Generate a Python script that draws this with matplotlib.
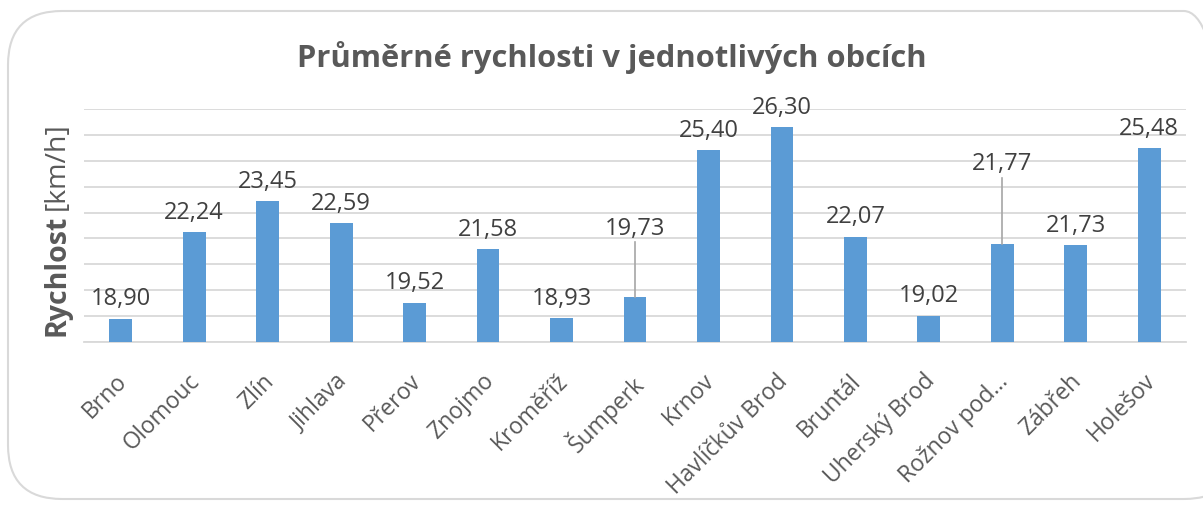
import matplotlib
matplotlib.use("Agg")
import matplotlib.pyplot as plt
import matplotlib.transforms as mtransforms
from matplotlib.patches import FancyBboxPatch

cities = ["Brno", "Olomouc", "Zlín", "Jihlava", "Přerov", "Znojmo", "Kroměříž", "Šumperk",
          "Krnov", "Havlíčkův Brod", "Bruntál", "Uherský Brod", "Rožnov pod...", "Zábřeh", "Holešov"]
speeds = [18.90, 22.24, 23.45, 22.59, 19.52, 21.58, 18.93, 19.73,
          25.40, 26.30, 22.07, 19.02, 21.77, 21.73, 25.48]
# label positions moved up with leader lines (index -> label value position)
moved_labels = {7: 21.95, 12: 24.45}

title = "Průměrné rychlosti v jednotlivých obcích"
ymin, ymax = 18, 27

plt.rcParams['font.family'] = ['Open Sans', 'DejaVu Sans']

W, H = 1203, 506
fig = plt.figure(figsize=(W / 100, H / 100), dpi=100)

# chart border
border = FancyBboxPatch((8 / W, 1 - 500 / H), 1230 / W, 488 / H,
                        boxstyle="round,pad=0,rounding_size=0.045",
                        transform=fig.transFigure, fill=False,
                        edgecolor="#d9d9d9", linewidth=1.5, mutation_aspect=W / H)
fig.patches.append(border)

ax = fig.add_axes([84 / W, 1 - 343 / H, 1102 / W, 233 / H])
x = list(range(len(cities)))
ax.bar(x, speeds, width=0.31, color="#5b9bd5", zorder=3)
ax.set_xlim(-0.5, len(cities) - 0.5)
ax.set_ylim(ymin, ymax)
ax.set_yticks(range(ymin, ymax + 1))
ax.yaxis.grid(True, color="#d9d9d9", linewidth=1.3, zorder=0)
ax.tick_params(axis='y', left=False, labelleft=False)
ax.tick_params(axis='x', bottom=False, pad=15.5)
for s in ["top", "right", "left"]:
    ax.spines[s].set_visible(False)
ax.spines["bottom"].set_color("#d9d9d9")
ax.spines["bottom"].set_linewidth(1.3)

ax.set_xticks(x)
ax.set_xticklabels(cities, rotation=45, ha="right", rotation_mode="anchor",
                   fontsize=16.5, color="#595959")
shift = mtransforms.ScaledTranslation(-6 / 100, 0, fig.dpi_scale_trans)
for lab in ax.get_xticklabels():
    lab.set_transform(lab.get_transform() + shift)

for i, v in enumerate(speeds):
    txt = f"{v:.2f}".replace(".", ",")
    if i in moved_labels:
        ly = moved_labels[i]
        ax.text(i, ly, txt, ha="center", va="bottom", fontsize=17, color="#404040", zorder=5)
        ax.plot([i, i], [v, ly - 0.1], color="#a6a6a6", linewidth=1.2, zorder=4)
    else:
        ax.annotate(txt, (i, v), xytext=(0, 6), textcoords="offset points",
                    ha="center", va="bottom", fontsize=17, color="#404040", zorder=5)

fig.text(612 / W, 1 - 57 / H, title, ha="center", va="center", fontsize=22.2,
         fontweight="bold", color="#595959")

# y label: bold part + normal part
t1 = fig.text(57 / W, 1 - 336 / H, "Rychlost", rotation=90, ha="center", va="bottom",
              fontsize=20.5, fontweight="bold", color="#595959")
fig.canvas.draw()
bb = t1.get_window_extent()
fig.text(57 / W, (bb.y1 + 5) / H, "[km/h]", rotation=90, ha="center", va="bottom",
         fontsize=20.5, color="#595959")

fig.savefig("out.png", dpi=100)
